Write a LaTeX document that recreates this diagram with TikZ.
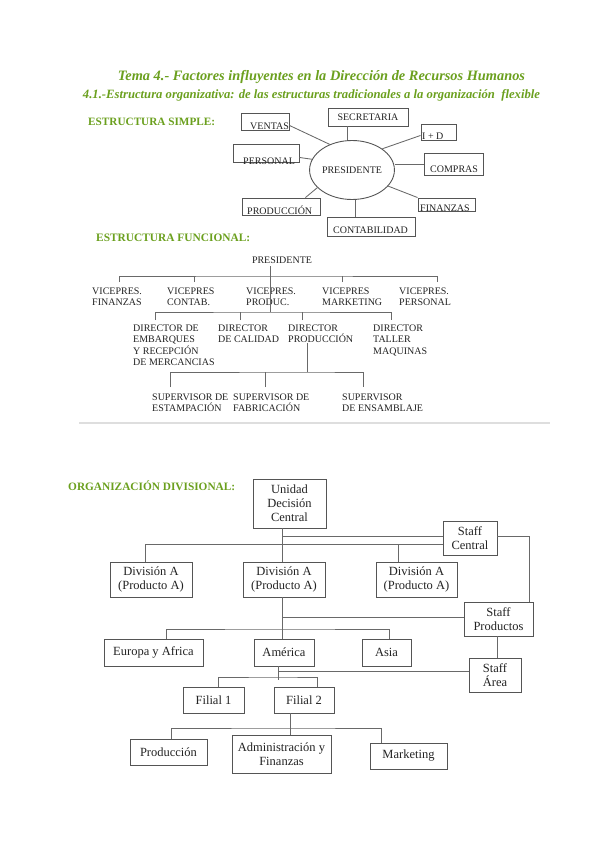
\documentclass[tikz,border=0pt]{standalone}
\usepackage{fontspec}
\setmainfont{Liberation Serif}
\usetikzlibrary{calc,shapes.geometric}
\definecolor{hgreen}{RGB}{107,160,30}
\definecolor{bordc}{RGB}{85,85,85}
\definecolor{linec}{RGB}{105,105,105}
\definecolor{txtc}{RGB}{35,35,35}
\begin{document}
\begin{tikzpicture}[x=1pt,y=-1pt,
  sbox/.style={draw=bordc,line width=0.9pt,inner sep=0pt},
  stxt/.style={font=\fontsize{10}{12}\selectfont,text=txtc,inner sep=0pt},
  ftxt/.style={font=\fontsize{10}{11.3}\selectfont,text=txtc,inner sep=0pt,align=left,anchor=north west},
  dbox/.style={draw=bordc,line width=0.9pt,inner sep=0pt,align=center,text=txtc,font=\fontsize{12.5}{13.8}\selectfont},
  ln/.style={draw=linec,line width=0.85pt},
  head/.style={text=hgreen,inner sep=0pt,anchor=west},
  sepl/.style={draw=black!13,line width=1.2pt}]
\fill[white] (0,0) rectangle (599,848);
\useasboundingbox (0,0) rectangle (599,848);

% titles
\node[text=hgreen,inner sep=0pt] (title) at (321.5,77) {\resizebox{407pt}{!}{\bfseries\itshape Tema 4.- Factores influyentes en la Dirección de Recursos Humanos}};
\node[text=hgreen,inner sep=0pt] (subtitle) at (311.5,95) {\resizebox{457pt}{!}{\bfseries\itshape 4.1.-Estructura organizativa: de las estructuras tradicionales a la organización\ \ flexible}};

% ---------------- Estructura simple
\node[head] (hsimple) at (88,122) {\resizebox{127pt}{!}{\bfseries ESTRUCTURA SIMPLE:}};

\node[sbox,ellipse,minimum width=82pt,minimum height=59pt,stxt] (pres) at (352,170) {PRESIDENTE};
\node[sbox,minimum width=48pt,minimum height=17pt] (ventas) at (265,121.5) {};
\node[stxt,anchor=base west] (tventas) at (250,129.5) {VENTAS};
\node[sbox,minimum width=80pt,minimum height=18pt,stxt] (secretaria) at (368,117) {SECRETARIA};
\node[sbox,minimum width=35pt,minimum height=16pt] (imasd) at (438.5,132) {};
\node[stxt,anchor=base west] (timasd) at (422,139.3) {I + D};
\node[sbox,minimum width=66pt,minimum height=18pt] (personal) at (266,153) {};
\node[stxt,anchor=base west] (tpersonal) at (243,164) {PERSONAL};
\node[sbox,minimum width=59pt,minimum height=22pt] (compras) at (453.5,164) {};
\node[stxt,anchor=base west] (tcompras) at (430,172.3) {COMPRAS};
\node[sbox,minimum width=78pt,minimum height=17pt] (produccion) at (281,206.5) {};
\node[stxt,anchor=base west] (tproduccion) at (247,214.3) {PRODUCCIÓN};
\node[sbox,minimum width=57pt,minimum height=13pt] (finanzas) at (446.5,204.5) {};
\node[stxt,anchor=base west] (tfinanzas) at (420,211) {FINANZAS};
\node[sbox,minimum width=88pt,minimum height=19pt] (contabilidad) at (371,226.5) {};
\node[stxt,anchor=base west] (tcontabilidad) at (333,233.3) {CONTABILIDAD};

\draw[ln] ($(ventas.south east)+(0,-5)$) -- (pres.131);
\draw[ln] (pres.98) -- (pres.98 |- secretaria.south);
\draw[ln] ($(imasd.south west)+(0,-5)$) -- (pres.35);
\draw[ln] ($(personal.south east)+(0,-5)$) -- (pres.165);
\draw[ln] (compras.west) -- (compras.west -| pres.east);
\draw[ln] ($(produccion.north east)+(-15,0)$) -- (pres.207);
\draw[ln] (pres.276) -- (pres.276 |- contabilidad.north);
\draw[ln] (finanzas.north west) -- (pres.336);

% ---------------- Estructura funcional
\node[head] (hfunc) at (96,238) {\resizebox{154pt}{!}{\bfseries ESTRUCTURA FUNCIONAL:}};

\node[stxt] (fpres) at (282,260) {PRESIDENTE};
\node[ftxt] (vp1) at (92,287.7) {VICEPRES.\\FINANZAS};
\node[ftxt] (vp2) at (167,287.7) {VICEPRES\\CONTAB.};
\node[ftxt] (vp3) at (246,287.7) {VICEPRES.\\PRODUC.};
\node[ftxt] (vp4) at (322,287.7) {VICEPRES\\MARKETING};
\node[ftxt] (vp5) at (399,287.7) {VICEPRES.\\PERSONAL};
\node[ftxt] (d1) at (133,324.7) {DIRECTOR DE\\EMBARQUES\\Y RECEPCIÓN\\DE MERCANCIAS};
\node[ftxt] (d2) at (218,324.7) {DIRECTOR\\DE CALIDAD};
\node[ftxt] (d3) at (288,324.7) {DIRECTOR\\PRODUCCIÓN};
\node[ftxt] (d4) at (373,324.7) {DIRECTOR\\TALLER\\MAQUINAS};
\node[ftxt] (s1) at (152,393.7) {SUPERVISOR DE\\ESTAMPACIÓN};
\node[ftxt] (s2) at (233,393.7) {SUPERVISOR DE\\FABRICACIÓN};
\node[ftxt] (s3) at (342,393.7) {SUPERVISOR\\DE ENSAMBLAJE};

\coordinate (fj1) at (270,276);
\coordinate (fj2) at (270,312);
\coordinate (fj3) at (307,372);
\coordinate (t1) at (119,282);
\coordinate (t2) at (194,282);
\coordinate (t3) at (270,282);
\coordinate (t4) at (342,282);
\coordinate (t5) at (437,282);
\coordinate (u1) at (155,320);
\coordinate (u2) at (240,320);
\coordinate (u3) at (302,320);
\coordinate (u4) at (391,320);
\coordinate (w1) at (170,387);
\coordinate (w2) at (265,387);
\coordinate (w3) at (363,387);

\draw[ln] ($(fpres.base -| fj1)+(0,3)$) -- (fj2);
\draw[ln] (t1) |- (fj1) -| (t5);
\draw[ln] (t2) -- (t2 |- fj1);
\draw[ln] (t4) -- (t4 |- fj1);
\draw[ln] (u1) |- (fj2) -| (u4);
\draw[ln] (u2) -- (u2 |- fj2);
\draw[ln] (u3) -- (u3 |- fj2);
\draw[ln] (d3.south -| fj3) -- (fj3);
\draw[ln] (w1) |- (fj3) -| (w3);
\draw[ln] (w2) -- (w2 |- fj3);

% separator
\coordinate (sepa) at (79,423);
\coordinate (sepb) at (550,423);
\draw[sepl] (sepa) -- (sepb);

% ---------------- Organizacion divisional
\node[head] (hdiv) at (68,486) {\resizebox{167pt}{!}{\bfseries ORGANIZACIÓN DIVISIONAL:}};

\node[dbox,minimum width=73pt,minimum height=49pt] (udc) at (289.5,503.5) {Unidad\\Decisión\\Central};
\node[dbox,minimum width=54pt,minimum height=34pt] (sc) at (470,538) {Staff\\Central};
\node[dbox,minimum width=82pt,minimum height=35pt] (dA1) at (151,579.5) {División A\\(Producto A)};
\node[dbox,minimum width=82pt,minimum height=35pt] (dA2) at (284,579.5) {División A\\(Producto A)};
\node[dbox,minimum width=81pt,minimum height=35pt] (dA3) at (416.5,579.5) {División A\\(Producto A)};
\node[dbox,minimum width=69pt,minimum height=34pt] (sp) at (498.5,619) {Staff\\Productos};
\node[dbox,minimum width=99pt,minimum height=27pt] (eu) at (153.5,652.5) {Europa y Africa};
\node[dbox,minimum width=60pt,minimum height=27pt] (am) at (284,652.5) {América};
\node[dbox,minimum width=49pt,minimum height=27pt] (as) at (386.5,652.5) {Asia};
\node[dbox,minimum width=52pt,minimum height=34pt] (sa) at (495,675) {Staff\\Área};
\node[dbox,minimum width=61pt,minimum height=26pt] (f1) at (213.5,700) {Filial 1};
\node[dbox,minimum width=60pt,minimum height=26pt] (f2) at (304,700) {Filial 2};
\node[dbox,minimum width=77pt,minimum height=26pt] (pr) at (168.5,752) {Producción};
\node[dbox,minimum width=99pt,minimum height=38pt] (ad) at (281.5,754) {Administración y\\Finanzas};
\node[dbox,minimum width=77pt,minimum height=26pt] (mk) at (408.5,756) {Marketing};

\coordinate (dj0) at (282,536);
\coordinate (dj1) at (282,544);
\coordinate (k1) at (145,562);
\coordinate (k3) at (398,562);
\coordinate (k5) at (529,602);
\coordinate (dj2) at (282,617);
\coordinate (dj3) at (282,629);
\coordinate (e1) at (166,639);
\coordinate (e3) at (389,639);
\coordinate (dj4) at (497,647);
\coordinate (dj5) at (278,680);
\coordinate (dj6) at (278,671);
\coordinate (dj7) at (278,677);
\coordinate (g1) at (218,687);
\coordinate (g2) at (317,687);
\coordinate (dj8) at (290,728);
\coordinate (h1) at (171,739);
\coordinate (h3) at (381,743);

\draw[ln] (udc.south -| dj0) -- (dA2.north -| dj0);
\draw[ln] (dj0) -- (dj0 -| sc.west);
\draw[ln] (k1) |- (sc.west |- dj1);
\draw[ln] (k3) -- (k3 |- dj1);
\draw[ln] (sc.east |- dj0) -| (k5);
\draw[ln] (dA2.south -| dj2) -- (am.north -| dj2);
\draw[ln] (dj2) -- (dj2 -| sp.west);
\draw[ln] (e1) |- (dj3) -| (e3);
\draw[ln] (sp.south -| dj4) -- (sa.north -| dj4);
\draw[ln] (am.south -| dj5) -- (dj5);
\draw[ln] (dj6) -- (dj6 -| sa.west);
\draw[ln] (g1) |- (dj7) -| (g2);
\draw[ln] (f2.south -| dj8) -- (ad.north -| dj8);
\draw[ln] (h1) |- (dj8) -| (h3);
\end{tikzpicture}
\end{document}
